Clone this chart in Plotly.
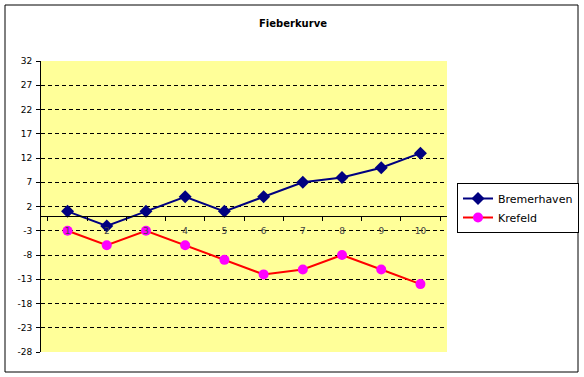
import plotly.graph_objects as go

categories = ["1", "2", "3", "4", "5", "6", "7", "8", "9", "10"]
bremerhaven = [1, -2, 1, 4, 1, 4, 7, 8, 10, 13]
krefeld = [-3, -6, -3, -6, -9, -12, -11, -8, -11, -14]
y_ticks = [32, 27, 22, 17, 12, 7, 2, -3, -8, -13, -18, -23, -28]
title_text = "Fieberkurve"

W, H = 584, 377
L, R, T, B = 41, 137, 61, 25
pw, ph = W - L - R, H - T - B

def px_x(x):
    return (x - L) / pw

def px_y(y):
    return (H - B - y) / ph

fig = go.Figure()
fig.add_trace(go.Scatter(
    x=categories, y=bremerhaven, name="Bremerhaven", mode="lines+markers",
    line=dict(color="#000080", width=2),
    marker=dict(symbol="diamond", size=10, color="#000080"),
))
fig.add_trace(go.Scatter(
    x=categories, y=krefeld, name="Krefeld", mode="lines+markers",
    line=dict(color="#FF0000", width=2),
    marker=dict(symbol="circle", size=10, color="#FF00FF"),
))

ymin, ymax = min(y_ticks), max(y_ticks)
zero_pos = (0 - ymin) / (ymax - ymin)

fig.update_layout(
    width=W, height=H,
    margin=dict(l=L, r=R, t=T, b=B, autoexpand=False),
    paper_bgcolor="white",
    plot_bgcolor="#FFFF99",
    font=dict(family="DejaVu Sans", size=9, color="black"),
    title=dict(text="<b>" + title_text + "</b>", x=293 / W, xref="container", xanchor="center",
               y=1 - 23 / H, yref="container", yanchor="middle",
               font=dict(size=10, family="DejaVu Sans")),
    showlegend=True,
    legend=dict(x=457 / W, y=1 - 183 / H, xref="container", yref="container",
                xanchor="left", yanchor="top",
                bordercolor="black", borderwidth=1, bgcolor="white",
                font=dict(size=11, family="DejaVu Sans"), tracegroupgap=2),
    xaxis=dict(type="category", anchor="free", position=zero_pos, automargin=False,
               showline=True, linecolor="black", linewidth=1,
               ticks="outside", ticklen=4, tickcolor="black", tickson="boundaries",
               ticklabelstandoff=6,
               showgrid=False, tickfont=dict(size=9, color="#444")),
    yaxis=dict(range=[ymin, ymax], tickvals=y_ticks, ticktext=[str(v) for v in y_ticks],
               automargin=False,
               showline=True, linecolor="black", linewidth=1,
               ticks="outside", ticklen=4, tickcolor="black", ticklabelstandoff=2,
               showgrid=True, gridcolor="black", gridwidth=1, griddash="4px,3px",
               zeroline=False, tickfont=dict(size=9)),
    shapes=[dict(type="rect", xref="paper", yref="paper",
                 x0=px_x(5), x1=px_x(578), y0=px_y(372), y1=px_y(5),
                 line=dict(color="black", width=1), layer="below")],
)

fig.write_html("out.html", config={"displayModeBar": False},
               post_script="document.body.style.margin='0';document.body.style.overflow='hidden';")
